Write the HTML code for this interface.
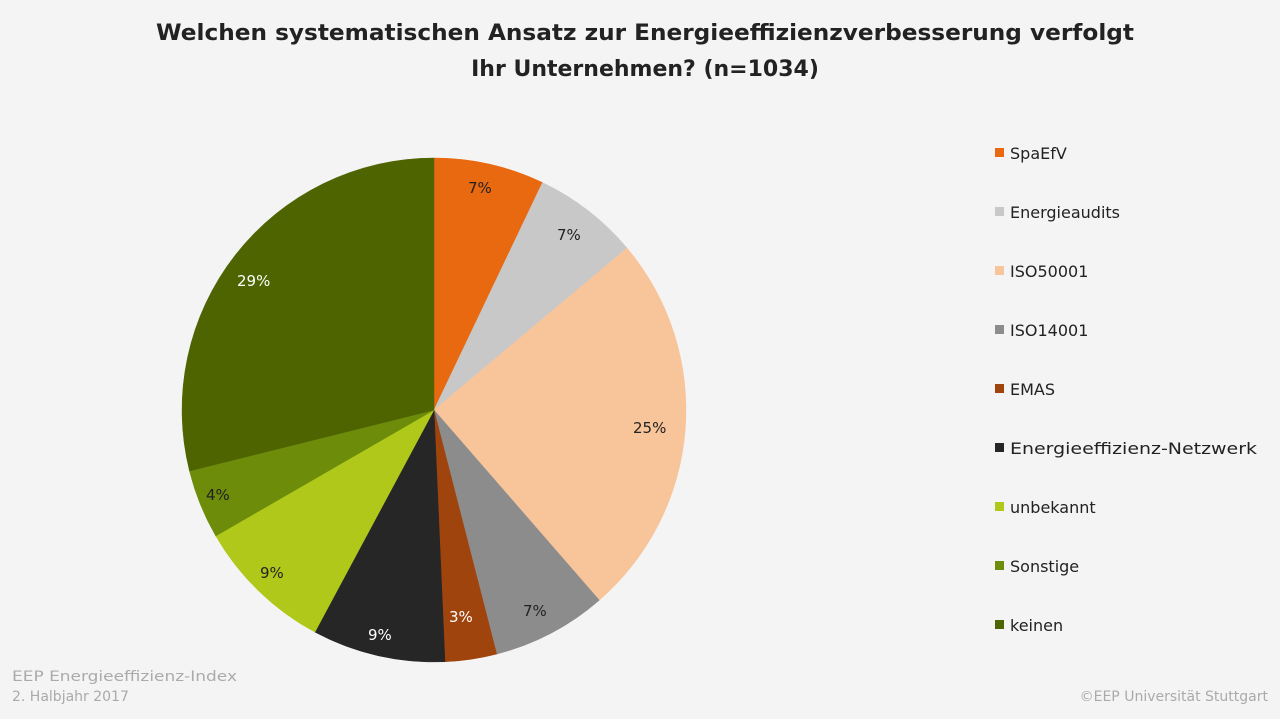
<!DOCTYPE html>
<html><head><meta charset="utf-8"><style>
body{margin:0;background:#f4f4f4;}
svg{display:block;font-family:"DejaVu Sans","Liberation Sans",sans-serif;}
</style></head><body>
<svg width="1280" height="719" viewBox="0 0 1280 719">
<rect width="1280" height="719" fill="#f4f4f4"/>
<text x="645" y="40" text-anchor="middle" font-size="22" font-weight="bold" fill="#222" textLength="978" lengthAdjust="spacingAndGlyphs">Welchen systematischen Ansatz zur Energieeffizienzverbesserung verfolgt</text>
<text x="645" y="76" text-anchor="middle" font-size="22" font-weight="bold" fill="#222">Ihr Unternehmen? (n=1034)</text>
<g id="pie"></g>
<g font-size="15" fill="#222">
<text x="468" y="193">7%</text>
<text x="557" y="240">7%</text>
<text x="633" y="433">25%</text>
<text x="523" y="616">7%</text>
<text x="449" y="622" fill="#fff">3%</text>
<text x="368" y="640" fill="#fff">9%</text>
<text x="260" y="578">9%</text>
<text x="206" y="500">4%</text>
<text x="237" y="286" fill="#fff">29%</text>
</g>
<g font-size="16" fill="#222">
<rect x="995" y="148" width="9" height="9" fill="#e8690f"/><text x="1010" y="159">SpaEfV</text>
<rect x="995" y="207" width="9" height="9" fill="#c8c8c8"/><text x="1010" y="218">Energieaudits</text>
<rect x="995" y="266" width="9" height="9" fill="#f8c49a"/><text x="1010" y="277">ISO50001</text>
<rect x="995" y="325" width="9" height="9" fill="#8c8c8c"/><text x="1010" y="336">ISO14001</text>
<rect x="995" y="384" width="9" height="9" fill="#a0440e"/><text x="1010" y="395">EMAS</text>
<rect x="995" y="443" width="9" height="9" fill="#262626"/><text x="1010" y="454" textLength="247" lengthAdjust="spacingAndGlyphs">Energieeffizienz-Netzwerk</text>
<rect x="995" y="502" width="9" height="9" fill="#b0c81a"/><text x="1010" y="513">unbekannt</text>
<rect x="995" y="561" width="9" height="9" fill="#6c8c0a"/><text x="1010" y="572">Sonstige</text>
<rect x="995" y="620" width="9" height="9" fill="#4e6400"/><text x="1010" y="631">keinen</text>
</g>
<text x="12" y="681" font-size="14" fill="#aaa" textLength="225" lengthAdjust="spacingAndGlyphs">EEP Energieeffizienz-Index</text>
<text x="12" y="701" font-size="14" fill="#aaa">2. Halbjahr 2017</text>
<text x="1268" y="701" text-anchor="end" font-size="14" fill="#aaa">©EEP Universität Stuttgart</text>
</svg>
<script>
(function(){
var cx=434,cy=410,r=252;
var b=[0,25.5,50,139,165.6,177.5,208.2,240,256,360];
var c=["#e8690f","#c8c8c8","#f8c49a","#8c8c8c","#a0440e","#262626","#b0c81a","#6c8c0a","#4e6400"];
var g=document.getElementById("pie"),s="";
function p(a){a=a*Math.PI/180;return (cx+r*Math.sin(a)).toFixed(2)+","+(cy-r*Math.cos(a)).toFixed(2);}
for(var i=0;i<9;i++){
var large=(b[i+1]-b[i])>180?1:0;
s+='<path d="M'+cx+','+cy+' L'+p(b[i])+' A'+r+','+r+' 0 '+large+' 1 '+p(b[i+1])+' Z" fill="'+c[i]+'" stroke="'+c[i]+'" stroke-width="0.5"/>';
}
g.innerHTML=s;
})();
</script>
</body></html>
